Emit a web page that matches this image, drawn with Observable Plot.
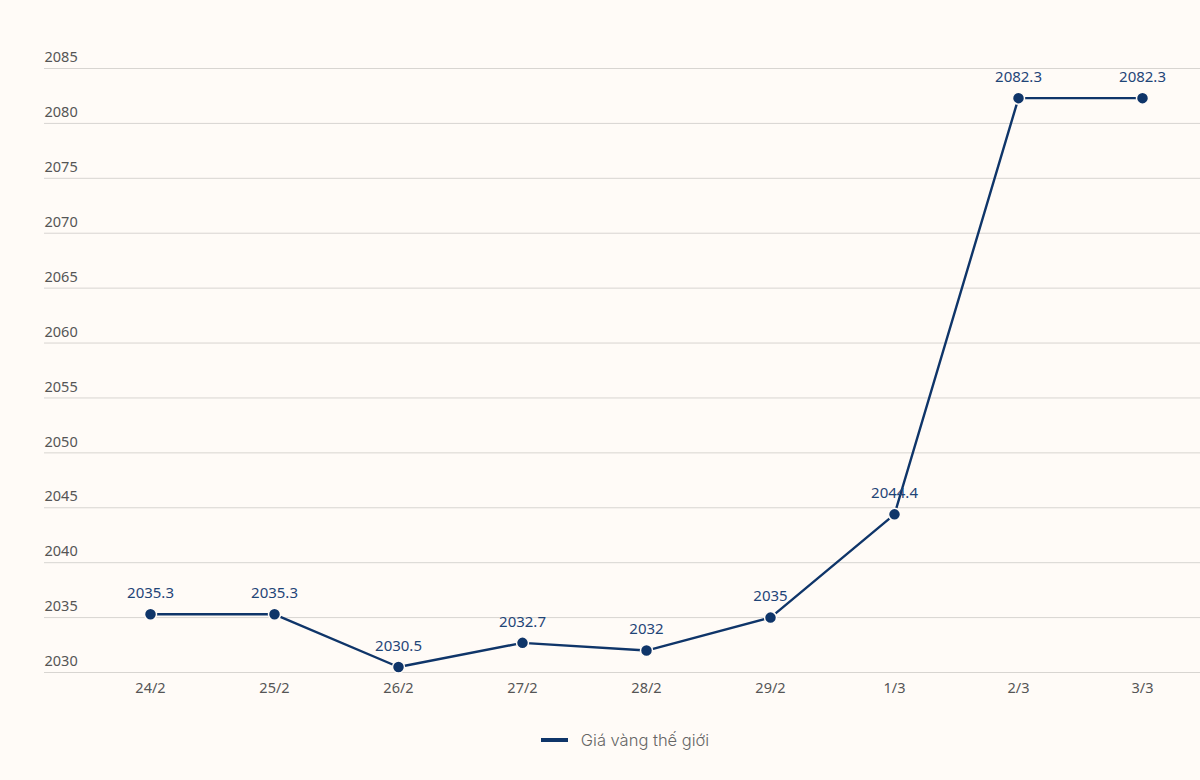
<!DOCTYPE html>
<html>
<head>
<meta charset="utf-8">
<script src="https://cdn.jsdelivr.net/npm/d3@7"></script>
<script src="https://cdn.jsdelivr.net/npm/@observablehq/plot@0.6"></script>
<style>
  html, body { margin: 0; padding: 0; background: #fffbf7; }
  #chart { width: 1200px; height: 780px; background: #fffbf7; }
  #legend { display: flex; justify-content: center; align-items: center; height: 80px; padding-left: 50px; box-sizing: border-box;
    font-family: Inter, "Open Sans", sans-serif; font-weight: 300; font-size: 16.5px; color: #666; }
  #legend .sw { width: 27px; height: 4px; background: #0f3569; margin-right: 13px; }
</style>
</head>
<body>
<div id="chart"></div>
<script>
const dates = ["24/2","25/2","26/2","27/2","28/2","29/2","1/3","2/3","3/3"];
const prices = [2035.3, 2035.3, 2030.5, 2032.7, 2032, 2035, 2044.4, 2082.3, 2082.3];
const yTicks = [2030, 2035, 2040, 2045, 2050, 2055, 2060, 2065, 2070, 2075, 2080, 2085];
const seriesName = "Giá vàng thế giới";

const data = dates.map((d, i) => ({date: d, value: prices[i]}));
const navy = "#0f3569";
const bg = "#fffbf7";

const plot = Plot.plot({
  width: 1200,
  height: 700,
  marginTop: 68,
  marginBottom: 28,
  marginLeft: 44,
  marginRight: 0,
  style: {background: bg, fontFamily: "'Source Sans Pro', 'Noto Sans', Lato, sans-serif", fontSize: "14px"},
  x: {type: "point", domain: dates, padding: 0, insetLeft: 105, insetRight: 57},
  y: {domain: [2030, 2085], axis: null},
  marks: [
    Plot.ruleY(yTicks, {stroke: "#d8d5d1", strokeWidth: 1}),
    Plot.text(yTicks, {y: d => d, text: d => String(d), frameAnchor: "left", textAnchor: "start", dy: -11, fill: "#555", fontSize: 14.5}),
    Plot.axisX({tickSize: 0, tickPadding: 10, fill: "#555", fontSize: 14.5, label: null}),
    Plot.line(data, {x: "date", y: "value", stroke: navy, strokeWidth: 2.4}),
    Plot.dot(data, {x: "date", y: "value", r: 6, fill: navy, stroke: bg, strokeWidth: 1.5}),
    Plot.text(data, {x: "date", y: "value", text: d => String(d.value), dy: -21, fill: "#1f4577", fontSize: 15})
  ]
});

const chart = document.getElementById("chart");
chart.appendChild(plot);
const legend = document.createElement("div");
legend.id = "legend";
legend.innerHTML = `<div class="sw"></div><span>${seriesName}</span>`;
chart.appendChild(legend);
</script>
</body>
</html>
